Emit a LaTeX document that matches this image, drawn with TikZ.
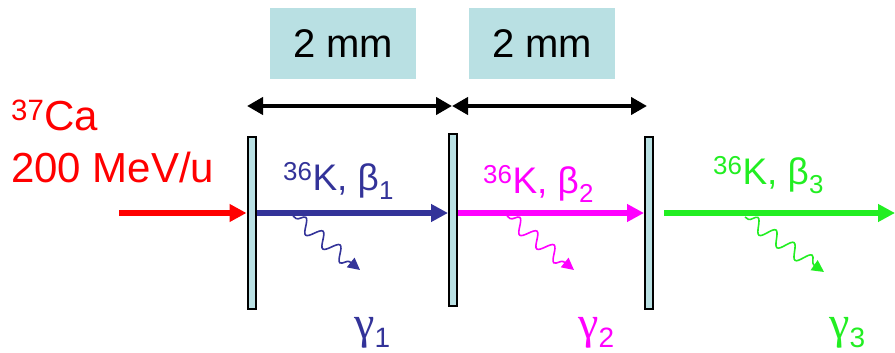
\documentclass[tikz,border=0pt]{standalone}
\usepackage{fontspec}
\setmainfont{Liberation Sans}
\newfontfamily\greekserif{Liberation Serif}
\usetikzlibrary{arrows.meta,decorations.pathmorphing}
\definecolor{foilc}{HTML}{B9E0E3}
\definecolor{kblue}{HTML}{333399}
\definecolor{kpink}{HTML}{FF00FF}
\definecolor{kgreen}{HTML}{22EE22}

\newcommand{\iso}[2]{\textsuperscript{#1}#2}
\newcommand{\fs}[1]{\fontsize{#1}{#1}\selectfont}

\begin{document}
\begin{tikzpicture}[x=1pt,y=-1pt,>={Triangle[length=17pt,width=17pt]}]
\tikzset{foil/.style={draw=black,line width=2pt,fill=foilc,minimum width=8pt,minimum height=172pt,inner sep=0pt},
  beam/.style={line width=5.5pt,->},
  gam/.style={line width=1.6pt,decorate,decoration={snake,amplitude=7pt,segment length=22pt,pre length=4pt,post length=8pt},-{Triangle[length=12pt,width=12pt]}},
  gapbox/.style={fill=foilc,minimum width=146pt,minimum height=71pt,inner sep=0pt,font=\fs{40}},
  dim/.style={line width=4.5pt,{Triangle[length=16pt,width=17pt]}-{Triangle[length=16pt,width=17pt]}},
  frag/.style={anchor=base west,inner sep=0pt,font=\fs{37}},
  gmark/.style={anchor=base west,inner sep=0pt,font=\fs{46}}}
\useasboundingbox (0,0) rectangle (895,353);

% foils
\node[foil] (foil1) at (251.5,222.5) {};
\node[foil] (foil2) at (453,220) {};
\node[foil] (foil3) at (649,222.5) {};

% spacing
\node[gapbox] (gap1) at (343,43.5) {2 mm};
\node[gapbox] (gap2) at (542,43.5) {2 mm};
\coordinate (d0) at (247,106);
\coordinate (d1) at (452,106);
\coordinate (d2) at (647,106);
\draw[dim] (d0) -- (d1);
\draw[dim] (d1) -- (d2);

% beam
\node[red,anchor=base west,inner sep=0pt,font=\fs{42}] (ion) at (11,130) {\iso{37}{Ca}};
\node[red,anchor=base west,inner sep=0pt,font=\fs{42}] (energy) at (11,182) {200 MeV/u};
\coordinate (src) at (119,213);
\coordinate (gstart) at (664,213);
\coordinate (out) at (895,213);
\draw[beam,red] (src) -- (src -| foil1.west);
\draw[beam,kblue] (src -| foil1.east) -- (src -| foil2.west);
\draw[beam,kpink] (src -| foil2.east) -- (src -| foil3.west);
\draw[beam,kgreen] (gstart) -- (out);

% fragments
\node[frag,kblue] (k1) at (283,190) {\iso{36}{K}, β\textsubscript{1}};
\node[frag,kpink] (k2) at (483,193) {\iso{36}{K}, β\textsubscript{2}};
\node[frag,kgreen] (k3) at (713,184) {\iso{36}{K}, β\textsubscript{3}};

% gammas
\draw[gam,kblue] (293,216) -- (360,270);
\draw[gam,kpink] (507,216) -- (574,270);
\draw[gam,kgreen] (745,217) -- (824,272);
\node[gmark,kblue] (g1) at (354,338) {{\greekserif γ}\raisebox{-9pt}{\fs{28}1}};
\node[gmark,kpink] (g2) at (578,338) {{\greekserif γ}\raisebox{-9pt}{\fs{28}2}};
\node[gmark,kgreen] (g3) at (829,338) {{\greekserif γ}\raisebox{-9pt}{\fs{28}3}};
\end{tikzpicture}
\end{document}
